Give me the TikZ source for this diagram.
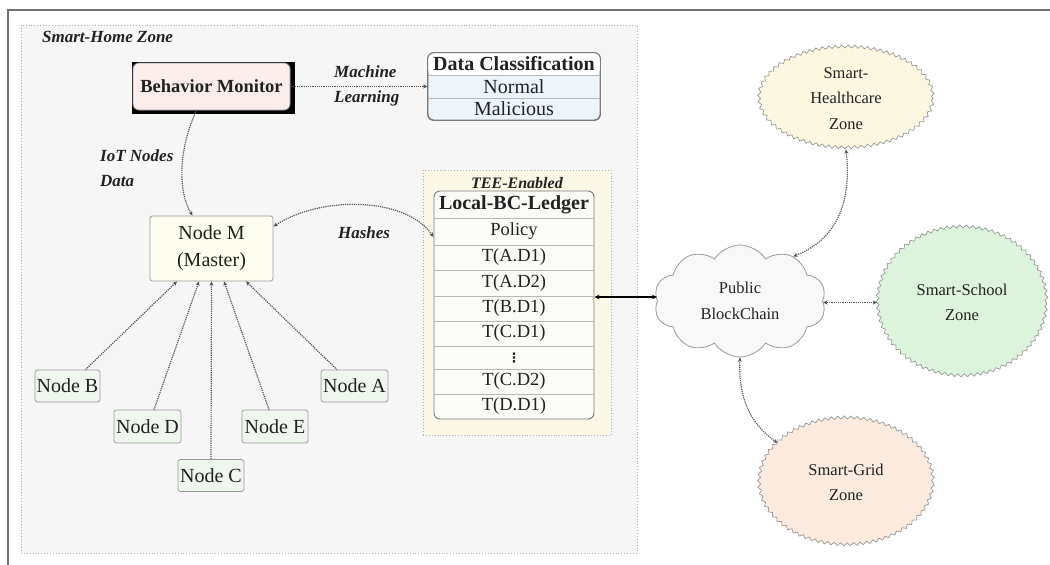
\documentclass[tikz,border=0pt]{standalone}
\usepackage{fontspec}
\setmainfont{Liberation Serif}
\newfontfamily\symfont{DejaVu Sans}
\usetikzlibrary{shapes.geometric,shapes.symbols,decorations.pathmorphing,arrows.meta}
\definecolor{zonefill}{HTML}{F6F6F6}
\definecolor{zoneline}{HTML}{B0B0B0}
\definecolor{bmfill}{HTML}{FCEDED}
\definecolor{dcfill}{HTML}{EEF5FA}
\definecolor{mfill}{HTML}{FDFDF0}
\definecolor{nfill}{HTML}{EEF6EE}
\definecolor{teefill}{HTML}{FBF8E8}
\definecolor{ledfill}{HTML}{FAFAF7}
\definecolor{hfill}{HTML}{FBF7E1}
\definecolor{sfill}{HTML}{DCF3DC}
\definecolor{gfill}{HTML}{FBEADD}
\definecolor{cfill}{HTML}{F8F8F8}
\definecolor{txt}{HTML}{222222}
\definecolor{edge}{HTML}{9A9A9A}
\definecolor{conncol}{HTML}{555555}
\begin{document}
\begin{tikzpicture}[x=1pt,y=-1pt,
  every node/.style={text=txt, inner sep=0pt},
  zone/.style={draw=zoneline, dotted, line width=0.9pt},
  lbl/.style={font=\fontsize{17}{25.5}\selectfont\bfseries\itshape, align=left},
  box/.style={draw=edge, line width=0.8pt, rounded corners=2.5pt, font=\fontsize{20}{27}\selectfont, align=center},
  small/.style={box, fill=nfill},
  rowtxt/.style={font=\fontsize{18.5}{22}\selectfont},
  rowline/.style={draw=edge!70, line width=0.7pt},
  wavy/.style={draw=edge, line width=0.7pt, ellipse, decorate, decoration={snake, segment length=6.5pt, amplitude=1.5pt}, font=\fontsize{16.5}{25.5}\selectfont, align=center},
  conn/.style={draw=conncol, densely dotted, line width=1.2pt},
  tip/.tip={Stealth[length=4.5pt,width=4pt]}
]
\useasboundingbox (0,0) rectangle (1050,565);
\fill[white] (0,0) rectangle (1050,565);
% outer frame
\draw[draw=black!55, line width=1.5pt] (8,565) -- (8,10) -- (1050,10);

% smart-home zone
\node[zone, fill=zonefill, minimum width=616, minimum height=528] (home) at (329,289) {};
\node[lbl, anchor=west] (hometitle) at (42,37) {Smart-Home Zone};

% behavior monitor
\node[fill=black, minimum width=163, minimum height=52] (bmshadow) at (213.5,88) {};
\node[draw=edge, line width=0.8pt, fill=bmfill, rounded corners=6pt, minimum width=157, minimum height=47,
  font=\fontsize{18.5}{22}\selectfont\bfseries] (bm) at (211.5,86.5) {Behavior Monitor};

% data classification
\node[draw=edge!80!black, line width=0.9pt, fill=dcfill, rounded corners=6pt, minimum width=172, minimum height=67] (dc) at (514,86.5) {};
\fill[white, rounded corners=6pt] ([xshift=0.6pt,yshift=-0.6pt]dc.north west) rectangle ([xshift=-0.6pt]dc.east |- 0,75);
\draw[rowline] (dc.west |- 0,75) -- (dc.east |- 0,75);
\draw[rowline] (dc.west |- 0,98) -- (dc.east |- 0,98);
\draw[draw=edge!80!black, line width=0.9pt, rounded corners=6pt] (dc.north west) rectangle (dc.south east);
\node[font=\fontsize{20}{22}\selectfont\bfseries] (dch) at (514,64) {Data Classification};
\node[font=\fontsize{20}{22}\selectfont] (dcn) at (514,86.5) {Normal};
\node[font=\fontsize{20}{22}\selectfont] (dcm) at (514,109) {Malicious};

\node[lbl, anchor=west] (ml) at (334,86) {Machine\\Learning};
\node[lbl, anchor=west] (iot) at (100,168) {IoT Nodes\\Data};

% node M and children
\node[box, fill=mfill, minimum width=123, minimum height=65] (M) at (211.5,248.5) {Node M\\(Master)};
\node[lbl] (hash) at (364,233) {Hashes};
\node[small, minimum width=65, minimum height=32] (B) at (67.5,386) {Node B};
\node[small, minimum width=67, minimum height=33] (D) at (147.5,426.5) {Node D};
\node[small, minimum width=66, minimum height=32] (C) at (211,475.5) {Node C};
\node[small, minimum width=66, minimum height=33] (E) at (275,426.5) {Node E};
\node[small, minimum width=67, minimum height=32] (A) at (354.5,386) {Node A};

% TEE zone and ledger
\node[zone, fill=teefill, minimum width=188, minimum height=265] (tee) at (517,302.5) {};
\node[font=\fontsize{16}{20}\selectfont\bfseries\itshape] (teelbl) at (517,183) {TEE-Enabled};
\node[draw=edge!80!black, line width=0.9pt, fill=ledfill, rounded corners=6pt, minimum width=160, minimum height=228] (led) at (514,305) {};
\foreach \yy in {218,245,270,296,321,346,369,394}{
  \draw[rowline] (led.west |- 0,\yy) -- (led.east |- 0,\yy);
}
\node[font=\fontsize{20}{22}\selectfont\bfseries] (l0) at (514,204.5) {Local-BC-Ledger};
\node[rowtxt] (l1) at (514,231.5) {Policy};
\node[rowtxt] (l2) at (514,257.5) {T(A.D1)};
\node[rowtxt] (l3) at (514,283) {T(A.D2)};
\node[rowtxt] (l4) at (514,308.5) {T(B.D1)};
\node[rowtxt] (l5) at (514,333.5) {T(C.D1)};
\node[font=\symfont\fontsize{13}{13}\selectfont\bfseries] (l6) at (514,357.5) {⋮};
\node[rowtxt] (l7) at (514,381.5) {T(C.D2)};
\node[rowtxt] (l8) at (514,406.5) {T(D.D1)};

% public blockchain and zones
\node[cloud, draw=edge, line width=0.8pt, fill=cfill, cloud puffs=10, cloud puff arc=115, aspect=1.6,
  minimum width=172, minimum height=112, font=\fontsize{16.5}{25.5}\selectfont, align=center] (cloud) at (740,301) {Public\\BlockChain};
\node[wavy, fill=hfill, minimum width=174, minimum height=101] (health) at (846,98.5) {Smart-\\Healthcare\\Zone};
\node[wavy, fill=sfill, minimum width=169, minimum height=149] (school) at (962,302.5) {Smart-School\\Zone};
\node[wavy, fill=gfill, minimum width=174, minimum height=127] (grid) at (846,482.5) {Smart-Grid\\Zone};

% connectors
\draw[conn, -{tip}] (bm.east) -- (dc.west);
\draw[conn, -{tip}] ([xshift=-15pt]bm.south) .. controls (178,150) and (178,192) .. ([xshift=-19pt]M.north);
\draw[conn, {tip}-{tip}] ([yshift=68pt]led.west) .. controls (405,196) and (320,196) .. ([yshift=22pt]M.east);
\draw[conn, {tip}-] ([xshift=-34.5pt]M.south) -- ([xshift=18pt]B.north);
\draw[conn, {tip}-] ([xshift=-12.5pt]M.south) -- ([xshift=6.5pt]D.north);
\draw[conn, {tip}-] (M.south) -- (C.north);
\draw[conn, {tip}-] ([xshift=12.5pt]M.south) -- ([xshift=-6pt]E.north);
\draw[conn, {tip}-] ([xshift=34.5pt]M.south) -- ([xshift=-17.5pt]A.north);
\draw[line width=1.1pt, {Stealth[length=5pt,width=4.5pt]}-{Stealth[length=5pt,width=4.5pt]}] ([yshift=8pt]led.east) -- ([yshift=8pt]led.east -| cloud.west);
\draw[conn, {tip}-{tip}] (health.south) .. controls (852,205) and (835,240) .. (cloud.40);
\draw[conn, {tip}-{tip}] (school.west) -- (school.west -| cloud.east);
\draw[conn, {tip}-{tip}] (cloud.south) .. controls (738,400) and (752,425) .. (grid.150);
\end{tikzpicture}
\end{document}
